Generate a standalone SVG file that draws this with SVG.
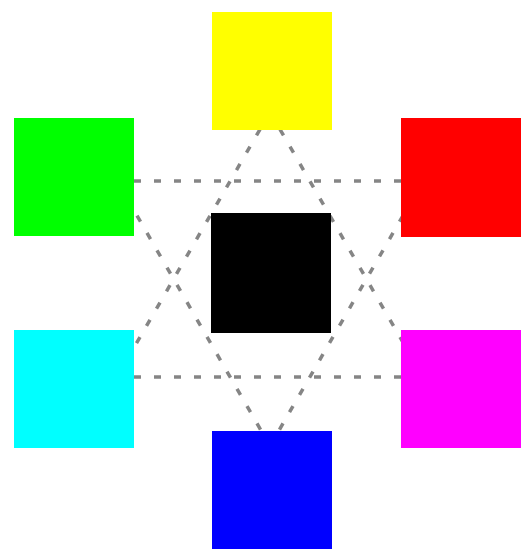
<svg xmlns="http://www.w3.org/2000/svg" width="521" height="552" viewBox="0 0 521 552">
<style>
.conn{fill:none;stroke:#858585;stroke-width:3.5;stroke-dasharray:7 13}
</style>
<rect width="521" height="552" fill="#ffffff"/>
<g id="connectors">
<line class="conn" x1="134" y1="181" x2="401" y2="181"/>
<line class="conn" x1="134" y1="377" x2="401" y2="377"/>
<line class="conn" x1="270" y1="112" x2="117" y2="377"/>
<line class="conn" x1="270" y1="112" x2="423" y2="377"/>
<line class="conn" x1="117" y1="181" x2="270" y2="446"/>
<line class="conn" x1="423" y1="181" x2="270" y2="446"/>
</g>
<g id="yellow"><rect x="212" y="12" width="120" height="118" fill="#ffff00"/></g>
<g id="green"><rect x="14" y="118" width="120" height="118" fill="#00ff00"/></g>
<g id="red"><rect x="401" y="118" width="120" height="119" fill="#ff0000"/></g>
<g id="black"><rect x="211" y="213" width="120" height="120" fill="#000000"/></g>
<g id="cyan"><rect x="14" y="330" width="120" height="118" fill="#00ffff"/></g>
<g id="magenta"><rect x="401" y="330" width="120" height="118" fill="#ff00ff"/></g>
<g id="blue"><rect x="212" y="431" width="120" height="118" fill="#0000ff"/></g>
</svg>
